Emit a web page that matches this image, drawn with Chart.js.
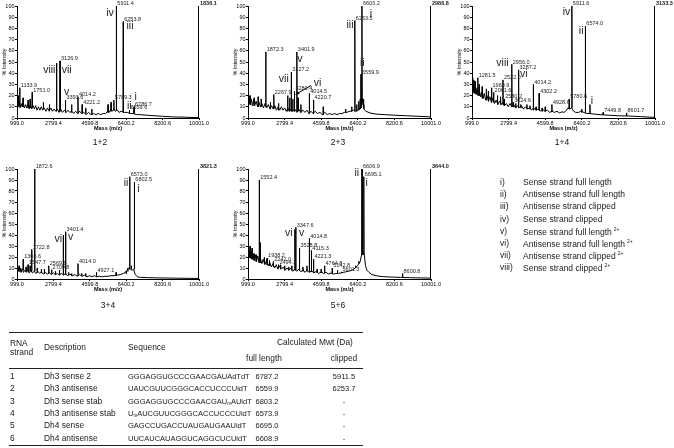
<!DOCTYPE html>
<html>
<head>
<meta charset="utf-8">
<script src="https://cdn.jsdelivr.net/npm/chart.js@4.4.0/dist/chart.umd.min.js"></script>
<style>
body { margin:0; width:674px; height:448px; background:#fff; position:relative; overflow:hidden; font-family:"Liberation Sans", Arial, sans-serif; color:#111; }
canvas { position:absolute; }
#extra { position:absolute; left:0; top:0; width:674px; height:448px; will-change:transform; }
.cap { position:absolute; font-size:8.5px; transform:translate(-50%,-50%); white-space:nowrap; color:#111; }
.lg { position:absolute; font-size:8.5px; white-space:nowrap; transform:translateY(-50%); color:#1a1a1a; }
.lg sup { font-size:5px; vertical-align:4px; margin-left:2px; }
.tc { position:absolute; font-size:7.5px; white-space:nowrap; transform:translateY(-50%); color:#1a1a1a; }
.tc.big { font-size:8.4px; }
.tc.mid { transform:translate(-50%,-50%); }
.tc sub { font-size:4.5px; vertical-align:-1px; }
.rule { position:absolute; left:9px; width:354px; background:#222; }
</style>
</head>
<body>
<canvas id="p12" width="224" height="136" style="left:0;top:0"></canvas>
<canvas id="p23" width="225" height="136" style="left:231px;top:0"></canvas>
<canvas id="p14" width="219" height="136" style="left:455px;top:0"></canvas>
<canvas id="p34" width="224" height="134" style="left:0;top:163px"></canvas>
<canvas id="p56" width="225" height="134" style="left:231px;top:163px"></canvas>
<div id="extra"></div>
<script>
// x axis ticks shared by all spectra
const massTicks = [999.0, 2799.4, 4599.8, 6400.2, 8200.6, 10001.0];

// ---- 1+2 ----
const base12 = [[999,9],[1030,15],[1060,10],[1100,14],[1150,9],[1200,13],[1250,10],[1300,14],[1360,9],[1420,12],[1480,9],[1540,13],[1600,8],[1660,12],[1720,8],[1800,11],[1860,8],[1920,11],[1990,7],[2060,10],[2130,7],[2200,10],[2270,7],[2350,9],[2430,6],[2510,9],[2590,6],[2670,9],[2750,6],[2830,8],[2910,6],[3000,8],[3080,5],[3160,8],[3250,5],[3340,7],[3430,5],[3520,7],[3610,5],[3700,6],[3800,4],[3900,6],[4000,4],[4100,6],[4200,4],[4300,5],[4420,3],[4540,5],[4660,3],[4780,4],[4900,3],[5020,4],[5140,3],[5260,4],[5380,4],[5480,6],[5560,5],[5640,8],[5720,6],[5800,8],[5860,6],[5960,7],[6050,5],[6150,6],[6300,5],[6450,5],[6600,4],[6750,4],[6900,3],[7100,3],[7400,2.5],[7800,2],[8200,1.5],[8700,1],[9300,0.7],[10001,0.3]];
// [mass, top, foot, labelled]
const peaks12 = [[1050,20,11,0],[1133.9,27,11,1],[1300,18,10,0],[1550,16,9,0],[1650,17,9,0],[1751.0,23,9,1],[2300,14,8,0],[2600,12,7,0],[2956.0,49,6,0],[3126.9,51,6,1],[3393.6,16,5,1],[3700,12,5,0],[4014.2,19,4,1],[4221.2,12,4,1],[4400,9,4,0],[4700,8,3,0],[5500,12,5,0],[5650,14,6,0],[5789.3,16,7,1],[5911.4,100,7,1],[6253.8,86,5,1],[6559.6,7,4,1],[6786.7,10,4,1]];
const roman12 = [['iv',5599,94],['iii',6588,82],['viii',2597,43],['vii',3457,43],['v',3457,23],['i',6868,19],['ii',6555,11]];
const top12 = '1836.1';

// ---- 2+3 ----
const base23 = [[999,20],[1030,13],[1070,18],[1110,12],[1160,17],[1210,11],[1270,16],[1330,11],[1400,15],[1470,10],[1540,14],[1610,10],[1680,13],[1760,9],[1840,13],[1920,9],[2000,12],[2080,8],[2160,11],[2240,8],[2320,11],[2400,7],[2480,10],[2560,7],[2640,10],[2720,7],[2800,9],[2880,6],[2960,9],[3040,6],[3120,8],[3200,6],[3300,8],[3400,5],[3500,8],[3600,5],[3700,7],[3800,5],[3900,7],[4000,4],[4100,6],[4200,4],[4300,6],[4420,4],[4540,5],[4660,3],[4780,5],[4900,3],[5020,4],[5140,3],[5260,4],[5380,3],[5500,4],[5620,4],[5740,5],[5860,5],[5980,6],[6080,6],[6180,7],[6300,6],[6400,7],[6480,8],[6540,9],[6620,18],[6660,12],[6700,8],[6800,6],[7000,4.5],[7300,3.5],[7700,3],[8200,2.5],[8800,2],[9400,1.5],[10001,1]];
const peaks23 = [[1020,22,13,0],[1100,20,12,0],[1300,18,11,0],[1500,19,10,0],[1650,17,10,0],[1872.3,59,10,1],[2100,14,8,0],[2267.9,21,8,1],[2500,13,7,0],[2950,20,6,0],[3050,18,6,0],[3127.2,41,6,1],[3200,17,6,0],[3280.4,24,6,1],[3401.9,59,6,1],[3460,18,6,0],[3600,12,5,0],[4014.5,22,4,1],[4220.7,16,4,1],[4700,10,3,0],[5800,8,5,0],[6100,10,6,0],[6253.5,87,6,1],[6350,12,6,0],[6450,15,7,0],[6520,17,8,0],[6559.9,39,9,1],[6603.2,100,12,1],[6680,17,10,0]];
const roman23 = [['iii',6018,83],['i',7040,93],['ii',6620,49],['vii',2761,35],['v',3550,53],['vi',4424,31]];
const arrow23 = [4100,29,3340,21];
const top23 = '2986.8';

// ---- 1+4 ----
const base14 = [[999,24],[1020,33],[1050,23],[1080,31],[1120,22],[1160,29],[1200,21],[1250,27],[1300,20],[1360,25],[1420,19],[1480,23],[1540,17],[1600,22],[1670,16],[1740,20],[1810,15],[1880,19],[1950,14],[2030,18],[2110,13],[2190,16],[2270,12],[2350,15],[2430,12],[2510,14],[2600,11],[2690,13],[2780,10],[2870,13],[2960,10],[3050,12],[3140,9],[3230,11],[3330,9],[3430,11],[3530,8],[3630,10],[3730,8],[3830,9],[3930,7],[4030,9],[4140,7],[4250,8],[4360,6],[4470,8],[4580,6],[4700,7],[4820,5],[4940,6],[5060,5],[5180,6],[5300,4.5],[5420,5.5],[5540,5],[5640,7],[5720,9],[5820,8],[5900,9],[6000,6],[6100,5],[6250,5],[6350,6],[6500,5],[6650,4],[6800,4],[7000,3.5],[7300,3],[7700,2.5],[8200,2],[8700,1.8],[9300,1.2],[10001,0.5]];
const peaks14 = [[1030,36,24,0],[1080,34,23,0],[1150,33,22,0],[1281.5,36,21,1],[1350,30,20,0],[1500,28,18,0],[1700,26,16,0],[1800,24,15,0],[1960.9,27,14,1],[2061.6,23,14,1],[2250,20,12,0],[2400,19,12,0],[2522.0,34,12,1],[2580.2,17,11,1],[2956.0,48,10,1],[3024.6,14,10,1],[3150,13,9,0],[3287.2,43,9,1],[3400,12,9,0],[3700,12,8,0],[3850,11,8,0],[4014.2,30,7,1],[4150,10,7,0],[4302.2,22,7,1],[4450,9,6,0],[4600,10,6,0],[4928.6,12,5.5,1],[5780.6,17,8,1],[5911.6,100,9,1],[6400,8,5,0],[6574.0,82,5,1],[6800,12,4,0],[7449.8,5,3,1],[8601.7,4.5,2,1]];
const roman14 = [['iv',5650,94.6],['ii',6370,77.5],['i',6897,14.7],['viii',2496,49],['vi',3546,39.5]];
const top14 = '3133.3';

// ---- 3+4 ----
const base34 = [[999,9],[1030,7],[1060,10],[1100,7],[1150,9],[1200,6],[1260,9],[1320,6],[1390,8],[1460,6],[1530,8],[1600,5.5],[1680,8],[1760,5.5],[1850,7],[1940,5],[2030,7],[2120,5],[2210,6.5],[2300,4.5],[2400,6],[2500,4.5],[2600,6],[2700,4],[2800,5.5],[2900,4],[3000,5],[3100,3.5],[3200,5],[3300,3.5],[3400,5],[3500,3],[3620,4.5],[3740,3],[3860,4],[3980,2.5],[4100,4],[4220,2.5],[4340,3.5],[4460,2],[4580,3],[4700,2],[4820,3],[4940,2],[5080,2.5],[5220,2],[5360,2.5],[5500,2.5],[5650,3],[5800,3],[5950,3.5],[6100,4],[6250,5],[6350,6],[6450,8],[6520,10],[6600,9],[6700,8],[6760,9],[6850,4],[6950,2],[7100,1.5],[7500,1.2],[8000,1],[9000,0.7],[10001,0.5]];
const peaks34 = [[1100,12,7,0],[1180,10,7,0],[1306.6,18,8,1],[1450,11,7,0],[1547.7,13,7,1],[1650,12,7,0],[1722.8,27,7,1],[1872.6,100,7,1],[2000,10,6,0],[2200,9,5.5,0],[2350,9,5,0],[2569.8,12,5,1],[2709.8,8.5,5,1],[2900,7,4,0],[3100,8,4,0],[3287.0,40,4,0],[3401.4,43,4,1],[3550,6,3.5,0],[3700,5,3,0],[4014.0,14,3,1],[4200,5,3,0],[4400,5,2.5,0],[4927.1,6,2.5,1],[5900,6,3,0],[6400,7,5,0],[6480,10,7,0],[6573.0,93,9,1],[6650,12,9,0],[6802.5,88,9,1]];
const roman34 = [['ii',6391,87],['i',7003,82],['vi',3042,36],['v',3654,38.5]];
const top34 = '3821.3';

// ---- 5+6 ----
const base56 = [[999,28],[1030,20],[1060,26],[1100,19],[1150,25],[1200,18],[1250,23],[1300,17],[1360,22],[1420,16],[1480,21],[1540,15],[1610,19],[1680,14],[1750,18],[1830,13],[1910,17],[1990,12],[2070,15],[2150,11],[2230,14],[2310,10],[2390,13],[2470,9],[2560,12],[2650,9],[2740,11],[2830,8],[2920,10],[3010,8],[3100,10],[3200,7],[3300,9],[3400,7],[3500,9],[3600,6.5],[3700,8.5],[3800,6],[3900,8],[4000,6],[4120,7.5],[4240,5.5],[4360,7],[4480,5],[4600,6.5],[4720,5],[4840,6],[4960,4.5],[5080,5.5],[5200,4.5],[5320,5],[5440,5],[5560,5.5],[5680,6],[5800,6.5],[5920,7],[6040,7.5],[6160,8.5],[6280,10],[6380,12],[6460,14],[6520,16],[6560,20],[6640,25],[6720,22],[6780,12],[6850,8],[6950,6],[7100,4],[7300,3],[7600,2.2],[8000,1.8],[8500,1.5],[9000,1.2],[9500,1],[10001,0.8]];
const peaks56 = [[1020,27,20,0],[1100,30,19,0],[1200,28,18,0],[1300,23,17,0],[1400,22,16,0],[1552.4,90,15,1],[1600,33,15,0],[1800,20,14,0],[1938.2,19,13,1],[2050,17,12,0],[2242.0,16,11,1],[2494.3,13,10,1],[2600,13,9,0],[2800,12,8,0],[3000,11,8,0],[3150,12,8,0],[3304.5,45,8,0],[3347.6,47,8,1],[3528.8,28,8,1],[3700,11,7,0],[3900,12,7,0],[4014.8,37,6.5,1],[4115.3,26,6.5,1],[4221.3,18,6,1],[4400,9,5.5,0],[4600,9,5.5,0],[4764.8,12,5.5,1],[5142.8,10,5,1],[5400,8,5,0],[5601.3,6.5,5.5,1],[6300,12,10,0],[6450,16,14,0],[6606.9,100,22,1],[6695.1,93,22,1],[8600.8,5,1.5,1]];
const roman56 = [['ii',6349,96],['i',6842,87],['vi',3008,41.5],['v',3634,41.5]];
const top56 = '3644.0';

// legend + table text
const legendNum = ['i)', 'ii)', 'iii)', 'iv)', 'v)', 'vi)', 'vii)', 'viii)'];
const legendText = ['Sense strand full length', 'Antisense strand full length', 'Antisense strand clipped', 'Sense strand clipped',
  'Sense strand full length', 'Antisense strand full length', 'Antisense strand clipped', 'Sense strand clipped'];
const legendCharged = [0, 0, 0, 0, 1, 1, 1, 1];

const strandNo = ['1', '2', '3', '4', '5', '6'];
const strandDesc = ['Dh3 sense 2', 'Dh3 antisense', 'Dh3 sense stab', 'Dh3 antisense stab', 'Dh4 sense', 'Dh4 antisense'];
const strandSeq = ['GGGAGGUGCCCGAACGAUAdTdT', 'UAUCGUUCGGGCACCUCCCUidT', 'GGGAGGUGCCCGAACGAU<sub>m</sub>AUidT',
  'U<sub>m</sub>AUCGUUCGGGCACCUCCCUidT', 'GAGCCUGACCUAUGAUGAAUidT', 'UUCAUCAUAGGUCAGGCUCUidT'];
const mwtFull = ['6787.2', '6559.9', '6803.2', '6573.9', '6695.0', '6608.9'];
const mwtClipped = ['5911.5', '6253.7', '-', '-', '-', '-'];

const FONT = '"Liberation Sans", Arial, sans-serif';

function marks(peaks, romans, topLabel, arrow) {
    return {
        id: 'marks',
        afterDatasetsDraw(chart) {
            const ctx = chart.ctx;
            const a = chart.chartArea;
            const x = chart.scales.x, y = chart.scales.y;
            ctx.save();
            // right frame line
            ctx.strokeStyle = '#000';
            ctx.lineWidth = 1;
            ctx.beginPath();
            ctx.moveTo(a.right - 0.5, a.top);
            ctx.lineTo(a.right - 0.5, a.bottom);
            ctx.stroke();

            ctx.fillStyle = '#222';
            ctx.textAlign = 'left';
            ctx.textBaseline = 'bottom';
            ctx.font = '5.5px ' + FONT;
            peaks.forEach(p => {
                if (p[3]) ctx.fillText(p[0].toFixed(1), x.getPixelForValue(p[0]) + 1, y.getPixelForValue(p[1]) + 0.5);
            });
            ctx.font = 'bold 5.5px ' + FONT;
            ctx.fillText(topLabel, a.right + 1, a.top + 0.5);

            ctx.font = '10.5px ' + FONT;
            ctx.textAlign = 'center';
            ctx.textBaseline = 'middle';
            romans.forEach(r => ctx.fillText(r[0], x.getPixelForValue(r[1]), y.getPixelForValue(r[2])));

            if (arrow) {
                const x1 = x.getPixelForValue(arrow[0]), y1 = y.getPixelForValue(arrow[1]);
                const x2 = x.getPixelForValue(arrow[2]), y2 = y.getPixelForValue(arrow[3]);
                const ang = Math.atan2(y2 - y1, x2 - x1);
                ctx.beginPath();
                ctx.moveTo(x1, y1);
                ctx.lineTo(x2, y2);
                ctx.stroke();
                ctx.beginPath();
                ctx.moveTo(x2, y2);
                ctx.lineTo(x2 - 4 * Math.cos(ang - 0.4), y2 - 4 * Math.sin(ang - 0.4));
                ctx.lineTo(x2 - 4 * Math.cos(ang + 0.4), y2 - 4 * Math.sin(ang + 0.4));
                ctx.closePath();
                ctx.fillStyle = '#000';
                ctx.fill();
            }
            ctx.restore();
        }
    };
}

// padRight: room kept right of the plot for the intensity count
function spectrum(id, padRight, base, peaks, romans, topLabel, arrow) {
    const line = base.map(p => ({x: p[0], y: p[1]}));
    const spikes = [];
    peaks.forEach(p => {
        spikes.push({x: p[0] - 12, y: p[2]}, {x: p[0], y: p[1]}, {x: p[0] + 12, y: p[2]}, {x: p[0] + 12, y: null});
    });
    const tickFont = {family: FONT, size: 5.5};
    new Chart(document.getElementById(id), {
        type: 'scatter',
        data: {
            datasets: [
                {data: line, showLine: true, borderColor: '#000', borderWidth: 1, pointRadius: 0},
                {data: spikes, showLine: true, spanGaps: false, borderColor: '#000', borderWidth: 1, pointRadius: 0}
            ]
        },
        options: {
            responsive: false,
            animation: false,
            events: [],
            layout: {padding: {top: 6, right: padRight, left: 0, bottom: 0}},
            plugins: {legend: {display: false}, tooltip: {enabled: false}},
            scales: {
                x: {
                    type: 'linear', min: 999, max: 10001,
                    afterBuildTicks: s => { s.ticks = massTicks.map(v => ({value: v})); },
                    afterFit: s => { s.height = 18; },
                    ticks: {font: tickFont, color: '#000', padding: 0, maxRotation: 0, autoSkip: false, callback: v => v.toFixed(1)},
                    grid: {display: true, drawOnChartArea: false, tickLength: 2, color: '#000'},
                    border: {display: true, color: '#000', width: 1},
                    title: {display: true, text: 'Mass (m/z)', font: {family: FONT, size: 5.5, weight: 'bold'}, color: '#000', padding: {top: 0, bottom: 4}}
                },
                y: {
                    min: 0, max: 100,
                    afterFit: s => { s.width = 17; },
                    ticks: {stepSize: 10, font: tickFont, color: '#000', padding: 0.5},
                    grid: {display: true, drawOnChartArea: false, tickLength: 2, color: '#000'},
                    border: {display: true, color: '#000', width: 1},
                    title: {display: true, text: '% Intensity', font: {family: FONT, size: 5.5}, color: '#000', padding: {top: 1.5, bottom: 0}}
                }
            }
        },
        plugins: [marks(peaks, romans, topLabel, arrow)]
    });
}

spectrum('p12', 25, base12, peaks12, roman12, top12);
spectrum('p23', 25, base23, peaks23, roman23, top23, arrow23);
spectrum('p14', 19, base14, peaks14, roman14, top14);
spectrum('p34', 25, base34, peaks34, roman34, top34);
spectrum('p56', 25, base56, peaks56, roman56, top56);

// captions, legend and table as plain text
let html = '';
[['1+2', 100, 142], ['2+3', 338, 142], ['1+4', 562, 142], ['3+4', 108, 305], ['5+6', 338, 305]].forEach(c => {
    html += '<div class="cap" style="left:' + c[1] + 'px;top:' + c[2] + 'px">' + c[0] + '</div>';
});
legendNum.forEach((n, i) => {
    const yy = 182 + i * 12.2;
    html += '<div class="lg" style="left:500px;top:' + yy + 'px">' + n + '</div>';
    html += '<div class="lg" style="left:523px;top:' + yy + 'px">' + legendText[i] + (legendCharged[i] ? '<sup>2+</sup>' : '') + '</div>';
});

html += '<div class="rule" style="top:331.5px;height:1.2px"></div>';
html += '<div class="rule" style="top:368px;height:0.8px"></div>';
html += '<div class="rule" style="top:444.5px;height:1.2px"></div>';
html += '<div class="tc big" style="left:10px;top:342.5px">RNA</div>';
html += '<div class="tc big" style="left:10px;top:351.5px">strand</div>';
html += '<div class="tc big" style="left:44px;top:347px">Description</div>';
html += '<div class="tc big" style="left:128px;top:347px">Sequence</div>';
html += '<div class="tc big" style="left:277px;top:342px">Calculated Mwt (Da)</div>';
html += '<div class="tc big mid" style="left:264px;top:357.5px">full length</div>';
html += '<div class="tc big mid" style="left:344px;top:357.5px">clipped</div>';
strandNo.forEach((n, i) => {
    const yy = 376 + i * 12.35;
    html += '<div class="tc big" style="left:10px;top:' + yy + 'px">' + n + '</div>';
    html += '<div class="tc big" style="left:44px;top:' + yy + 'px">' + strandDesc[i] + '</div>';
    html += '<div class="tc" style="left:128px;top:' + yy + 'px">' + strandSeq[i] + '</div>';
    html += '<div class="tc mid" style="left:267px;top:' + yy + 'px">' + mwtFull[i] + '</div>';
    html += '<div class="tc mid" style="left:344px;top:' + yy + 'px">' + mwtClipped[i] + '</div>';
});
document.getElementById('extra').innerHTML = html;
</script>
</body>
</html>
